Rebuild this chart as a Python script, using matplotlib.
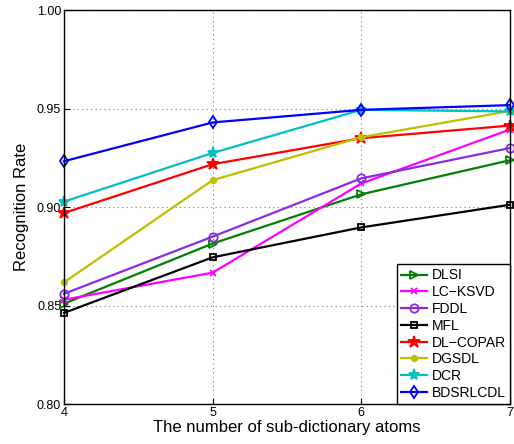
import matplotlib
matplotlib.use("Agg")
import matplotlib.pyplot as plt

plt.rcParams["font.family"] = ["Liberation Sans", "DejaVu Sans"]

# atoms per sub-dictionary
atoms = [4, 5, 6, 7]

dlsi = [0.851, 0.8815, 0.9065, 0.9238]
lc_ksvd = [0.853, 0.8667, 0.912, 0.9394]
fddl = [0.856, 0.885, 0.9146, 0.930]
mfl = [0.8463, 0.8745, 0.8897, 0.9012]
dl_copar = [0.897, 0.9218, 0.935, 0.9414]
dgsdl = [0.8618, 0.9137, 0.9355, 0.9488]
dcr = [0.9028, 0.9275, 0.9494, 0.9486]
bdsrlcdl = [0.9233, 0.943, 0.9494, 0.9518]

names = ["DLSI", "LC\u2212KSVD", "FDDL", "MFL", "DL\u2212COPAR", "DGSDL", "DCR", "BDSRLCDL"]
series = [dlsi, lc_ksvd, fddl, mfl, dl_copar, dgsdl, dcr, bdsrlcdl]
colors = ["#008000", "#ff00ff", "#8a2be2", "#000000", "#ff0000", "#bfbf00", "#00bfbf", "#0000ff"]
markers = [">", "x", "o", "s", "*", ".", "*", "d"]
msizes = [6, 5, 6, 5, 9, 8, 8, 6]
mfill = ["none", "none", "none", "none", "full", "full", "full", "none"]

fig = plt.figure(figsize=(5.14, 4.44), dpi=100)
ax = fig.add_axes([0.1245, 0.09, 0.8675, 0.887])

for ys, name, c, m, ms, fs in zip(series, names, colors, markers, msizes, mfill):
    kw = dict(markerfacecolor="none") if fs == "none" else dict(markerfacecolor=c)
    ax.plot(atoms, ys, color=c, marker=m, markersize=ms, linewidth=1.6,
            markeredgecolor=c, markeredgewidth=1.3, label=name, clip_on=False, **kw)

ax.set_xlim(4, 7)
ax.set_ylim(0.80, 1.00)
ax.set_xticks(atoms)
ax.set_yticks([0.80, 0.85, 0.90, 0.95, 1.00])
ax.set_yticklabels(["0.80", "0.85", "0.90", "0.95", "1.00"])
ax.tick_params(direction="in", length=4, labelsize=9, pad=2)
ax.grid(True, linestyle=(0, (1, 3)), color="#808080", linewidth=0.8)
for s in ax.spines.values():
    s.set_linewidth(1.0)

ax.set_xlabel("The number of sub-dictionary atoms", fontsize=12, labelpad=1)
ax.set_ylabel("Recognition Rate", fontsize=12, labelpad=6)

leg = ax.legend(loc="lower right", fontsize=10, frameon=True, fancybox=False,
                edgecolor="black", framealpha=1, borderaxespad=0,
                handlelength=1.9, handletextpad=0.3, labelspacing=0.2,
                borderpad=0.3)
leg.get_frame().set_linewidth(1.0)
leg.set_zorder(5)

fig.savefig("out.png", dpi=100)
